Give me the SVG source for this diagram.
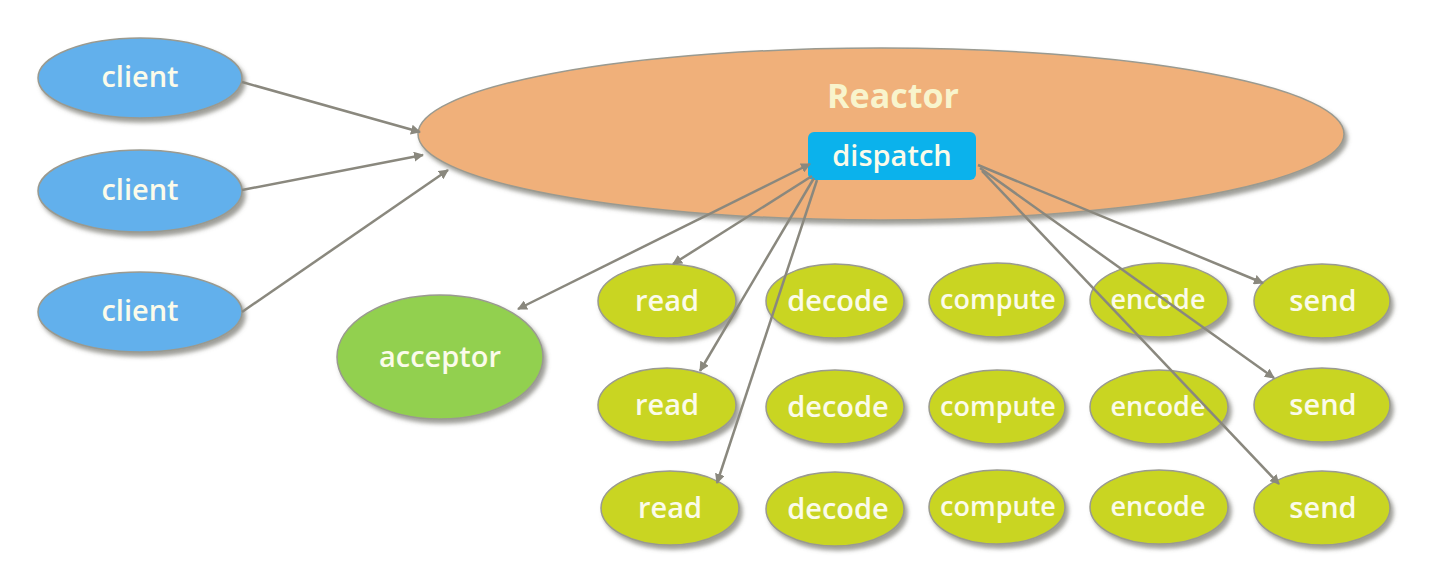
<svg xmlns="http://www.w3.org/2000/svg" width="1454" height="578" viewBox="0 0 1454 578">
<defs>
<filter id="sh" x="-10%" y="-10%" width="125%" height="130%">
<feDropShadow dx="3" dy="4" stdDeviation="2" flood-color="#6a6a60" flood-opacity="0.65"/>
</filter>
<marker id="ah" viewBox="0 0 10 10" refX="9" refY="5" markerWidth="4" markerHeight="4" orient="auto-start-reverse" markerUnits="strokeWidth">
<path d="M0,0 L10,5 L0,10 z" fill="#8a887e"/>
</marker>
</defs>
<style>
.client{fill:#62b0ec;stroke:#9a9a90;stroke-width:1.5;filter:url(#sh)}
.task{fill:#c9d524;stroke:#9a9a90;stroke-width:1.5;filter:url(#sh)}
.acc{fill:#92d050;stroke:#9a9a90;stroke-width:1.5;filter:url(#sh)}
.reactor{fill:#f0b07a;stroke:#9a9a90;stroke-width:1.5;filter:url(#sh)}
text{font-family:"Open Sans","Noto Sans",sans-serif;fill:#fbfbea;text-anchor:middle;font-size:29px;font-weight:600}
.sm{font-size:27px}
.conn line{stroke:#8a887e;stroke-width:2.5;fill:none;marker-end:url(#ah)}
</style>
<rect width="1454" height="578" fill="#ffffff"/>

<g id="reactor">
<ellipse class="reactor" cx="881" cy="134" rx="463" ry="86"/>
<text x="893" y="108" style="font-weight:bold;font-size:34px;fill:#f8f4cc">Reactor</text>
</g>
<g id="dispatch">
<rect x="808" y="132" width="168" height="48" rx="6" fill="#0bb2ec"/>
<text x="892" y="166">dispatch</text>
</g>

<g id="client1"><ellipse class="client" cx="140" cy="78" rx="102" ry="40"/><text x="140" y="87">client</text></g>
<g id="client2"><ellipse class="client" cx="140" cy="191" rx="102" ry="41"/><text x="140" y="200">client</text></g>
<g id="client3"><ellipse class="client" cx="140" cy="312" rx="102" ry="40"/><text x="140" y="321">client</text></g>

<g id="acceptor"><ellipse class="acc" cx="440" cy="357" rx="103" ry="62"/><text x="440" y="367">acceptor</text></g>

<g id="read1"><ellipse class="task" cx="667" cy="301" rx="69" ry="37"/><text x="667" y="311">read</text></g>
<g id="decode1"><ellipse class="task" cx="835" cy="301" rx="69" ry="37"/><text x="838" y="311">decode</text></g>
<g id="compute1"><ellipse class="task" cx="997" cy="300" rx="68" ry="37"/><text class="sm" x="998" y="309">compute</text></g>
<g id="encode1"><ellipse class="task" cx="1159" cy="300" rx="69" ry="37"/><text class="sm" x="1158" y="309">encode</text></g>
<g id="send1"><ellipse class="task" cx="1322" cy="301" rx="68" ry="37"/><text x="1323" y="311">send</text></g>

<g id="read2"><ellipse class="task" cx="667" cy="405" rx="69" ry="37"/><text x="667" y="415">read</text></g>
<g id="decode2"><ellipse class="task" cx="835" cy="407" rx="69" ry="37"/><text x="838" y="417">decode</text></g>
<g id="compute2"><ellipse class="task" cx="997" cy="407" rx="68" ry="37"/><text class="sm" x="998" y="416">compute</text></g>
<g id="encode2"><ellipse class="task" cx="1159" cy="407" rx="69" ry="37"/><text class="sm" x="1158" y="416">encode</text></g>
<g id="send2"><ellipse class="task" cx="1322" cy="405" rx="68" ry="37"/><text x="1323" y="415">send</text></g>

<g id="read3"><ellipse class="task" cx="670" cy="508" rx="69" ry="37"/><text x="670" y="518">read</text></g>
<g id="decode3"><ellipse class="task" cx="835" cy="509" rx="69" ry="37"/><text x="838" y="519">decode</text></g>
<g id="compute3"><ellipse class="task" cx="997" cy="507" rx="68" ry="37"/><text class="sm" x="998" y="516">compute</text></g>
<g id="encode3"><ellipse class="task" cx="1159" cy="507" rx="69" ry="37"/><text class="sm" x="1158" y="516">encode</text></g>
<g id="send3"><ellipse class="task" cx="1322" cy="508" rx="68" ry="37"/><text x="1323" y="518">send</text></g>

<g id="connectors" class="conn">
<line x1="242" y1="82" x2="420" y2="132"/>
<line x1="242" y1="190" x2="423" y2="155"/>
<line x1="242" y1="312" x2="448" y2="170"/>
<line x1="810" y1="164" x2="518" y2="309" style="marker-start:url(#ah)"/>
<line x1="812" y1="176" x2="673" y2="264"/>
<line x1="814" y1="178" x2="700" y2="371"/>
<line x1="817" y1="180" x2="717" y2="483"/>
<line x1="978" y1="165" x2="1263" y2="283"/>
<line x1="980" y1="168" x2="1274" y2="378"/>
<line x1="982" y1="171" x2="1279" y2="484"/>
</g>
</svg>
